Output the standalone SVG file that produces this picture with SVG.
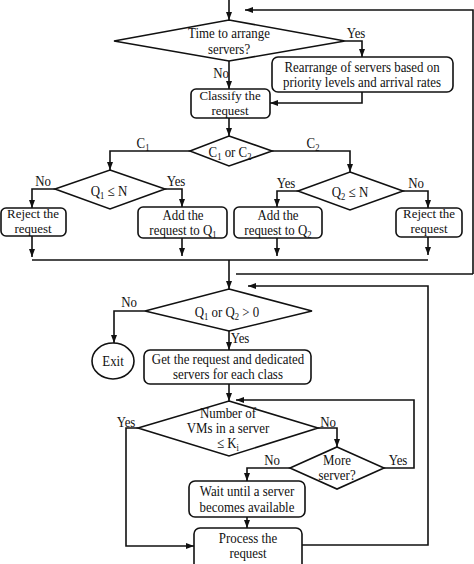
<svg xmlns="http://www.w3.org/2000/svg" width="474" height="564" viewBox="0 0 474 564">
<style>
.s{fill:#fff;stroke:#111;stroke-width:1.6}
.c{fill:none;stroke:#111;stroke-width:1.6}
.a{marker-end:url(#ah)}
text{font-family:"Liberation Serif","Times New Roman",serif;font-size:15px;fill:#111;text-anchor:middle}
.sm{font-size:13.5px}
.sub{font-size:10px}
</style>
<defs>
<marker id="ah" markerWidth="8" markerHeight="6" refX="8" refY="3" orient="auto" markerUnits="userSpaceOnUse">
<path d="M0,0 L8,3 L0,6 z" fill="#111"/>
</marker>
</defs>
<rect width="474" height="564" fill="#fff"/>
<g id="connectors">
<path class="c a" d="M229,0 V20"/>
<path class="c a" d="M473,274 V10 H245"/>
<path class="c a" d="M345,41 H362 V57"/>
<path class="c a" d="M362,92 V103 H270"/>
<path class="c a" d="M229,61 V89"/>
<path class="c a" d="M229,118 V136"/>
<path class="c a" d="M190,151 H110 V170"/>
<path class="c a" d="M272,151 H350 V172"/>
<path class="c a" d="M55,189 H32 V208"/>
<path class="c a" d="M165,189 H182 V207"/>
<path class="c a" d="M298,191 H277 V207"/>
<path class="c a" d="M403,191 H428 V208"/>
<path class="c a" d="M32,236 V257"/>
<path class="c a" d="M182,238 V256"/>
<path class="c a" d="M277,238 V256"/>
<path class="c a" d="M428,237 V255"/>
<path class="c" d="M32,260 H428"/>
<path class="c a" d="M229,260 V289"/>
<path class="c" d="M236,274 H473"/>
<path class="c a" d="M145,311 H114 V343"/>
<path class="c a" d="M229,331 V350"/>
<path class="c a" d="M229,384 V401"/>
<path class="c a" d="M302,545 H428 V286 H248"/>
<path class="c a" d="M384,468 H414 V400 H236"/>
<path class="c a" d="M138,428 H126 V546 H194"/>
<path class="c a" d="M318,428 H337 V447"/>
<path class="c a" d="M290,468 H247 V481"/>
<path class="c a" d="M247,517 V528"/>
<text transform="translate(356,38) scale(0.86,1)">Yes</text>
<text transform="translate(221,78) scale(0.86,1)">No</text>
<text transform="translate(143,148) scale(0.86,1)">C<tspan class="sub" dy="3">1</tspan></text>
<text transform="translate(313,148) scale(0.86,1)">C<tspan class="sub" dy="3">2</tspan></text>
<text transform="translate(43,186) scale(0.86,1)">No</text>
<text transform="translate(176,186) scale(0.86,1)">Yes</text>
<text transform="translate(286,188) scale(0.86,1)">Yes</text>
<text transform="translate(416,188) scale(0.86,1)">No</text>
<text transform="translate(129,307) scale(0.86,1)">No</text>
<text transform="translate(240,343) scale(0.86,1)">Yes</text>
<text transform="translate(126,427) scale(0.86,1)">Yes</text>
<text transform="translate(328,427) scale(0.86,1)">No</text>
<text transform="translate(272,465) scale(0.86,1)">No</text>
<text transform="translate(398,465) scale(0.86,1)">Yes</text>
</g>
<g id="n_time">
<path class="s" d="M229,20 L345,41 L229,61 L114,41 Z"/>
<text transform="translate(229,38) scale(0.86,1)">Time to arrange</text>
<text transform="translate(229,54) scale(0.86,1)">servers?</text>
</g>
<g id="n_rearrange">
<rect class="s" x="272" y="57" width="181" height="35" rx="6"/>
<text transform="translate(362,72) scale(0.86,1)">Rearrange of servers based on</text>
<text transform="translate(362,87) scale(0.86,1)">priority levels and arrival rates</text>
</g>
<g id="n_classify">
<rect class="s" x="191" y="89" width="79" height="29" rx="5"/>
<text class="sm" transform="translate(230,100) scale(0.955,1)">Classify the</text>
<text class="sm" transform="translate(230,115) scale(0.955,1)">request</text>
</g>
<g id="n_c1c2">
<path class="s" d="M229,136 L272,151 L229,166 L190,151 Z"/>
<text transform="translate(230,157) scale(0.86,1)">C<tspan class="sub" dy="3">1</tspan><tspan dy="-3"> or C</tspan><tspan class="sub" dy="3">2</tspan></text>
</g>
<g id="n_q1">
<path class="s" d="M110,170 L165,189 L110,209 L55,189 Z"/>
<text transform="translate(109,196) scale(0.86,1)">Q<tspan class="sub" dy="3">1</tspan><tspan dy="-3"> ≤ N</tspan></text>
</g>
<g id="n_q2">
<path class="s" d="M350,172 L403,191 L350,210 L298,191 Z"/>
<text transform="translate(350,197) scale(0.86,1)">Q<tspan class="sub" dy="3">2</tspan><tspan dy="-3"> ≤  N</tspan></text>
</g>
<g id="n_reject1">
<rect class="s" x="1" y="208" width="65" height="28" rx="5"/>
<text class="sm" transform="translate(33,218) scale(0.955,1)">Reject the</text>
<text class="sm" transform="translate(33,233) scale(0.955,1)">request</text>
</g>
<g id="n_add1">
<rect class="s" x="138" y="207" width="89" height="31" rx="5"/>
<text transform="translate(183,220) scale(0.86,1)">Add the</text>
<text transform="translate(183,235) scale(0.86,1)">request to Q<tspan class="sub" dy="3">1</tspan></text>
</g>
<g id="n_add2">
<rect class="s" x="234" y="207" width="88" height="31" rx="5"/>
<text transform="translate(278,220) scale(0.86,1)">Add the</text>
<text transform="translate(278,235) scale(0.86,1)">request to Q<tspan class="sub" dy="3">2</tspan></text>
</g>
<g id="n_reject2">
<rect class="s" x="396" y="208" width="66" height="29" rx="5"/>
<text class="sm" transform="translate(429,218) scale(0.955,1)">Reject the</text>
<text class="sm" transform="translate(429,233) scale(0.955,1)">request</text>
</g>
<g id="n_q1q2">
<path class="s" d="M229,289 L312,311 L229,331 L145,311 Z"/>
<text transform="translate(227,317) scale(0.86,1)">Q<tspan class="sub" dy="3">1</tspan><tspan dy="-3"> or Q</tspan><tspan class="sub" dy="3">2</tspan><tspan dy="-3"> &gt; 0</tspan></text>
</g>
<g id="n_exit">
<ellipse class="s" cx="113" cy="361" rx="21" ry="18"/>
<text transform="translate(113,366) scale(0.86,1)">Exit</text>
</g>
<g id="n_get">
<rect class="s" x="144" y="350" width="167" height="34" rx="6"/>
<text transform="translate(228,364) scale(0.86,1)">Get the request and dedicated</text>
<text transform="translate(228,379) scale(0.86,1)">servers for each class</text>
</g>
<g id="n_number">
<path class="s" d="M229,401 L318,428 L229,456 L138,428 Z"/>
<text transform="translate(228,418) scale(0.86,1)">Number of</text>
<text transform="translate(228,433) scale(0.86,1)">VMs in a server</text>
<text transform="translate(228,448) scale(0.86,1)">≤ K<tspan class="sub" dy="3">i</tspan></text>
</g>
<g id="n_more">
<path class="s" d="M337,447 L384,468 L337,489 L290,468 Z"/>
<text transform="translate(337,465) scale(0.86,1)">More</text>
<text transform="translate(337,480) scale(0.86,1)">server?</text>
</g>
<g id="n_wait">
<rect class="s" x="189" y="481" width="116" height="36" rx="6"/>
<text transform="translate(247,496) scale(0.86,1)">Wait until a server</text>
<text transform="translate(247,512) scale(0.86,1)">becomes available</text>
</g>
<g id="n_process">
<rect class="s" x="194" y="528" width="108" height="42" rx="6"/>
<text transform="translate(248,543) scale(0.86,1)">Process the</text>
<text transform="translate(248,558) scale(0.86,1)">request</text>
</g>
</svg>
